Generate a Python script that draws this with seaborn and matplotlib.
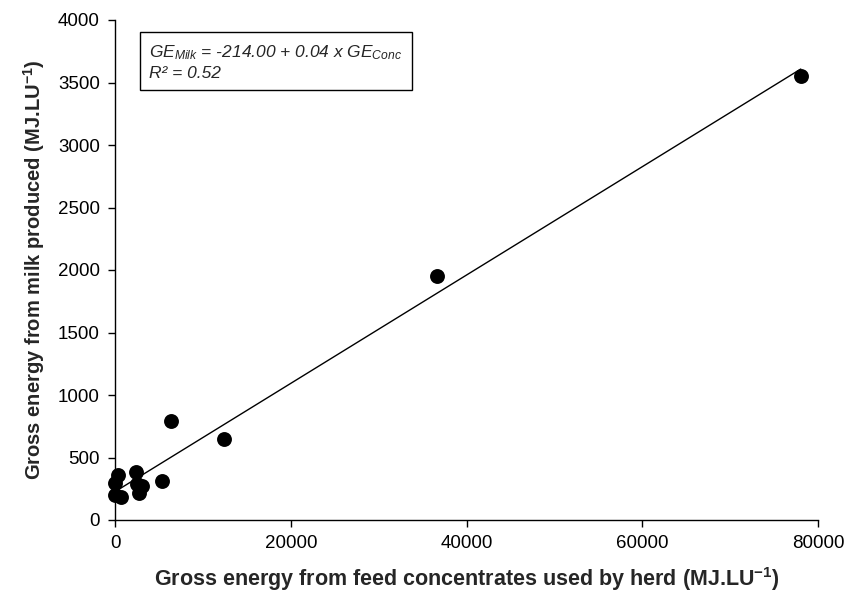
import numpy as np
import pandas as pd
import matplotlib
matplotlib.use("Agg")
import matplotlib.pyplot as plt
import seaborn as sns

# Data
ge_conc = [0, 0, 375, 650, 2350, 2500, 2760, 3050, 5380, 6370, 12440, 36670, 78040]
ge_milk = [200, 299, 360, 185, 381, 290, 213, 272, 315, 795, 648, 1955, 3555]

x_ticks = [0, 20000, 40000, 60000, 80000]
y_ticks = [0, 500, 1000, 1500, 2000, 2500, 3000, 3500, 4000]

x_label = "Gross energy from feed concentrates used by herd (MJ.LU$^{\\mathbf{-1}}$)"
y_label = "Gross energy from milk produced (MJ.LU$^{\\mathbf{-1}}$)"
eq_line1 = "$GE_{Milk}$ = -214.00 + 0.04 x $GE_{Conc}$"
eq_line2 = "R² = 0.52"

sns.set_theme(style="ticks")
plt.rcParams["font.family"] = ["Liberation Sans", "DejaVu Sans"]
plt.rcParams["mathtext.fontset"] = "custom"
plt.rcParams["mathtext.rm"] = "Liberation Sans"
plt.rcParams["mathtext.it"] = "Liberation Sans:italic"
plt.rcParams["mathtext.bf"] = "Liberation Sans:bold"

df = pd.DataFrame({"conc": ge_conc, "milk": ge_milk})

fig = plt.figure(figsize=(8.46, 5.97), dpi=100)
ax = fig.add_axes([115 / 846, 77 / 597, (818 - 115) / 846, (520 - 20) / 597])

sns.regplot(data=df, x="conc", y="milk", ax=ax, ci=None, truncate=True,
            scatter_kws=dict(s=115, color="black", alpha=1, edgecolor="black",
                             linewidths=0, clip_on=False, zorder=3),
            line_kws=dict(color="black", linewidth=1.0, zorder=2))

ax.set_xlim(0, 80000)
ax.set_ylim(0, 4000)
ax.set_xticks(x_ticks)
ax.set_yticks(y_ticks)
ax.tick_params(axis="both", direction="out", length=5, width=1, colors="black",
               labelsize=13.5, pad=6)
for s in ["top", "right"]:
    ax.spines[s].set_visible(False)
for s in ["left", "bottom"]:
    ax.spines[s].set_color("black")
    ax.spines[s].set_linewidth(1)

ax.set_xlabel(x_label, fontsize=15.5, fontweight="bold", labelpad=9)
ax.set_ylabel(y_label, fontsize=14.5, fontweight="bold", labelpad=8)

ax.text(0.049, 0.953, eq_line1 + "\n" + eq_line2, transform=ax.transAxes,
        fontsize=12.5, style="italic", va="top", ha="left", linespacing=1.3,
        bbox=dict(boxstyle="square,pad=0.55", facecolor="white", edgecolor="black", linewidth=1))

fig.savefig("out.png", dpi=100)
